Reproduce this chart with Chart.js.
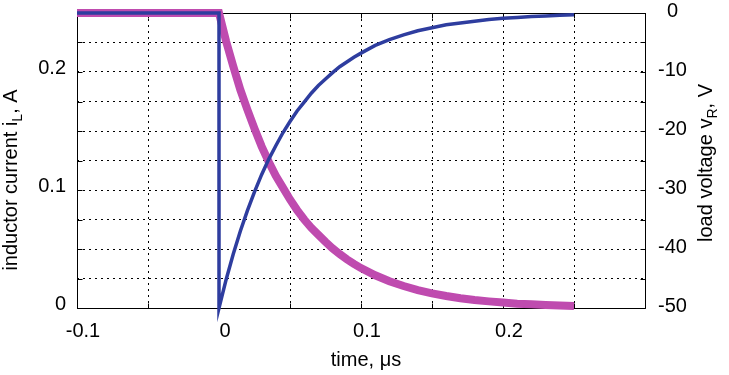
<!DOCTYPE html>
<html>
<head>
<meta charset="utf-8">
<script src="https://cdn.jsdelivr.net/npm/chart.js@4"></script>
<style>
  html, body { margin: 0; padding: 0; background: #fff; }
  #wrap { width: 729px; height: 375px; }
</style>
</head>
<body>
<div id="wrap"><canvas id="c" width="729" height="375"></canvas></div>
<script>
// ---- data ----
const preTime = [-0.1, 0];
const preCurrent = [0.25, 0.25];
const preVoltage = [0, 0];
const decayTime = [0, 0.005, 0.01, 0.015, 0.02, 0.025, 0.03, 0.035, 0.04, 0.045, 0.05,
  0.055, 0.06, 0.065, 0.07, 0.075, 0.08, 0.085, 0.09, 0.095, 0.1,
  0.11, 0.12, 0.13, 0.14, 0.15, 0.16, 0.17, 0.18, 0.19, 0.2,
  0.21, 0.22, 0.23, 0.24, 0.25];
const inductorCurrent = [0.25, 0.226, 0.205, 0.185, 0.168, 0.152, 0.137, 0.124, 0.112, 0.102, 0.092,
  0.083, 0.075, 0.068, 0.062, 0.056, 0.0505, 0.0457, 0.0413, 0.0374, 0.0338,
  0.0277, 0.0227, 0.0186, 0.0152, 0.0124, 0.0102, 0.0083, 0.0068, 0.0056, 0.0046,
  0.0037, 0.0031, 0.0025, 0.0021, 0.0017];
const loadVoltage = [-50, -45.2, -40.9, -37.0, -33.5, -30.3, -27.4, -24.8, -22.5, -20.3, -18.4,
  -16.6, -15.1, -13.6, -12.3, -11.2, -10.1, -9.1, -8.3, -7.5, -6.8,
  -5.5, -4.5, -3.7, -3.0, -2.5, -2.0, -1.7, -1.4, -1.1, -0.9,
  -0.75, -0.6, -0.5, -0.4, -0.3];
const xTickLabels = [-0.1, 0, 0.1, 0.2];
const leftTickLabels = [0, 0.1, 0.2];
const rightTickLabels = [0, -10, -20, -30, -40, -50];
const xTitle = 'time, \u03bcs';
const leftTitle = ['inductor current i', 'L', ', A'];
const rightTitle = ['load voltage v', 'R', ', V'];

// ---- build point lists ----
const currentPts = preTime.map((t, i) => ({x: t, y: preCurrent[i]}))
  .concat(decayTime.map((t, i) => ({x: t, y: inductorCurrent[i]})));
const voltagePts = preTime.map((t, i) => ({x: t, y: preVoltage[i]}))
  .concat(decayTime.map((t, i) => ({x: t, y: loadVoltage[i]})));

const FONT = "'Liberation Sans', Arial, sans-serif";
Chart.defaults.font.family = FONT;
Chart.defaults.font.size = 20;
Chart.defaults.color = '#000';

const framePlugin = {
  id: 'frame',
  beforeDatasetsDraw(chart) {
    const {ctx, chartArea: a} = chart;
    ctx.save();
    ctx.strokeStyle = '#000';
    ctx.lineWidth = 1;
    ctx.setLineDash([]);
    ctx.beginPath();
    const L = Math.round(a.left) + 0.5, R = Math.round(a.right) + 0.5;
    const T = Math.round(a.top) + 0.5, B = Math.round(a.bottom) + 0.5;
    ctx.rect(L, T, R - L, B - T);
    const xs = chart.scales.x, ys = chart.scales.y;
    xs.ticks.forEach(t => {
      const px = Math.round(xs.getPixelForValue(t.value)) + 0.5;
      ctx.moveTo(px, B); ctx.lineTo(px, B - 5);
      ctx.moveTo(px, T); ctx.lineTo(px, T + 5);
    });
    ys.ticks.forEach(t => {
      const py = Math.round(ys.getPixelForValue(t.value)) + 0.5;
      ctx.moveTo(L, py); ctx.lineTo(L + 5, py);
      ctx.moveTo(R, py); ctx.lineTo(R - 5, py);
    });
    ctx.stroke();
    ctx.restore();
  },
  afterDraw(chart) {
    const {ctx, chartArea: a} = chart;
    ctx.save();
    ctx.fillStyle = '#000';
    ctx.textBaseline = 'alphabetic';
    ctx.font = '20px ' + FONT;
    ctx.textAlign = 'center';
    ctx.fillText(xTitle, (a.left + a.right) / 2 + 5, 366);
    function rotTitle(parts, cy, baseX) {
      ctx.save();
      ctx.translate(baseX, cy);
      ctx.rotate(-Math.PI / 2);
      ctx.textAlign = 'left';
      ctx.font = '20px ' + FONT;
      const w0 = ctx.measureText(parts[0]).width;
      const w2 = ctx.measureText(parts[2]).width;
      ctx.font = '14px ' + FONT;
      const w1 = ctx.measureText(parts[1]).width;
      const total = w0 + w1 + w2;
      let x = -total / 2;
      ctx.font = '20px ' + FONT;
      ctx.fillText(parts[0], x, 0); x += w0;
      ctx.font = '14px ' + FONT;
      ctx.fillText(parts[1], x, 5); x += w1;
      ctx.font = '20px ' + FONT;
      ctx.fillText(parts[2], x, 0);
      ctx.restore();
    }
    rotTitle(leftTitle, 180, 17);
    rotTitle(rightTitle, 163, 712);
    ctx.restore();
  }
};

function zeroPad(s) { s.paddingTop = 0; s.paddingBottom = 0; s.paddingLeft = 0; s.paddingRight = 0; }

new Chart(document.getElementById('c'), {
  type: 'line',
  data: {
    datasets: [
      {
        label: 'load voltage',
        data: voltagePts,
        yAxisID: 'y2',
        borderColor: '#2E3D9F',
        borderWidth: 3.5,
        pointRadius: 0,
        tension: 0,
        fill: false,
        clip: false,
        borderJoinStyle: 'miter'
      },
      {
        label: 'inductor current',
        data: currentPts,
        yAxisID: 'y',
        borderColor: '#BF4BAF',
        borderWidth: 8,
        pointRadius: 0,
        tension: 0,
        fill: false,
        clip: false,
        borderJoinStyle: 'miter',
        borderCapStyle: 'butt'
      }
    ]
  },
  options: {
    responsive: false,
    animation: false,
    events: [],
    layout: { padding: { top: 13, left: 0, right: 0, bottom: 0 } },
    plugins: { legend: { display: false }, tooltip: { enabled: false } },
    scales: {
      x: {
        type: 'linear',
        min: -0.1, max: 0.3,
        afterFit(s) { s.height = 67; zeroPad(s); },
        border: { display: false, dash: [2, 4] },
        grid: { color: '#000', lineWidth: 1, drawTicks: false },
        ticks: {
          stepSize: 0.05,
          padding: 11,
          labelOffset: 6,
          maxRotation: 0,
          autoSkip: false,
          callback(v) {
            const hit = xTickLabels.find(a => Math.abs(a - v) < 1e-6);
            return hit === undefined ? '' : String(hit);
          }
        }
      },
      y: {
        position: 'left',
        min: 0, max: 0.25,
        afterFit(s) { s.width = 77; zeroPad(s); },
        border: { display: false, dash: [2, 4] },
        grid: { color: '#000', lineWidth: 1, drawTicks: false },
        ticks: {
          stepSize: 0.025,
          padding: 11,
          labelOffset: -4,
          autoSkip: false,
          callback(v) {
            const hit = leftTickLabels.find(a => Math.abs(a - v) < 1e-6);
            return hit === undefined ? '' : String(hit);
          }
        }
      },
      y2: {
        position: 'right',
        min: -50, max: 0,
        afterFit(s) { s.width = 84; zeroPad(s); },
        border: { display: false },
        grid: { drawOnChartArea: false, drawTicks: false },
        ticks: {
          stepSize: 5,
          padding: 13,
          labelOffset: -2,
          crossAlign: 'center',
          autoSkip: false,
          callback(v) {
            const hit = rightTickLabels.find(a => Math.abs(a - v) < 1e-6);
            return hit === undefined ? '' : String(hit);
          }
        }
      }
    }
  },
  plugins: [framePlugin]
});
</script>
</body>
</html>
